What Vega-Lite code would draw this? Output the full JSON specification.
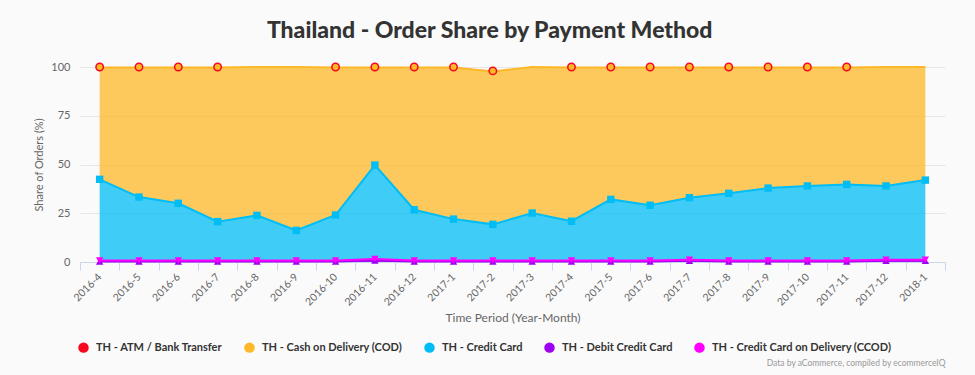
{
  "$schema": "https://vega.github.io/schema/vega-lite/v6.json",
  "autosize": {"type": "pad"},
  "padding": {"left": 33, "top": 20, "right": 30, "bottom": 7},
  "background": "#fafafa",
  "config": {"font": "Lato", "view": {"stroke": null}, "concat": {"spacing": 0}},
  "title": {"text": "Thailand - Order Share by Payment Method", "fontSize": 23, "fontWeight": 900, "color": "#333333", "anchor": "middle", "offset": 17},
  "vconcat": [
    {
      "width": 865,
      "height": 195,
      "title": {"text": "Data by aCommerce, compiled by ecommerceIQ", "orient": "bottom", "anchor": "end", "fontSize": 8.5, "fontWeight": "normal", "color": "#999999", "offset": 36},
      "data": {"values": [
        {"month": "2016-4", "TH - ATM / Bank Transfer": 0.2, "TH - Cash on Delivery (COD)": 57.4, "TH - Credit Card": 41.6, "TH - Debit Credit Card": 0.3, "TH - Credit Card on Delivery (CCOD)": 0.5},
        {"month": "2016-5", "TH - ATM / Bank Transfer": 0.2, "TH - Cash on Delivery (COD)": 66.5, "TH - Credit Card": 32.5, "TH - Debit Credit Card": 0.3, "TH - Credit Card on Delivery (CCOD)": 0.5},
        {"month": "2016-6", "TH - ATM / Bank Transfer": 0.2, "TH - Cash on Delivery (COD)": 69.7, "TH - Credit Card": 29.3, "TH - Debit Credit Card": 0.3, "TH - Credit Card on Delivery (CCOD)": 0.5},
        {"month": "2016-7", "TH - ATM / Bank Transfer": 0.2, "TH - Cash on Delivery (COD)": 79.1, "TH - Credit Card": 19.9, "TH - Debit Credit Card": 0.3, "TH - Credit Card on Delivery (CCOD)": 0.5},
        {"month": "2016-8", "TH - ATM / Bank Transfer": 0, "TH - Cash on Delivery (COD)": 76.1, "TH - Credit Card": 23.1, "TH - Debit Credit Card": 0.3, "TH - Credit Card on Delivery (CCOD)": 0.5},
        {"month": "2016-9", "TH - ATM / Bank Transfer": 0, "TH - Cash on Delivery (COD)": 83.8, "TH - Credit Card": 15.4, "TH - Debit Credit Card": 0.3, "TH - Credit Card on Delivery (CCOD)": 0.5},
        {"month": "2016-10", "TH - ATM / Bank Transfer": 0.2, "TH - Cash on Delivery (COD)": 75.7, "TH - Credit Card": 23.3, "TH - Debit Credit Card": 0.3, "TH - Credit Card on Delivery (CCOD)": 0.5},
        {"month": "2016-11", "TH - ATM / Bank Transfer": 0.2, "TH - Cash on Delivery (COD)": 50.1, "TH - Credit Card": 48.2, "TH - Debit Credit Card": 0.8, "TH - Credit Card on Delivery (CCOD)": 0.7},
        {"month": "2016-12", "TH - ATM / Bank Transfer": 0.2, "TH - Cash on Delivery (COD)": 73.0, "TH - Credit Card": 26.0, "TH - Debit Credit Card": 0.3, "TH - Credit Card on Delivery (CCOD)": 0.5},
        {"month": "2017-1", "TH - ATM / Bank Transfer": 0.2, "TH - Cash on Delivery (COD)": 77.8, "TH - Credit Card": 21.2, "TH - Debit Credit Card": 0.3, "TH - Credit Card on Delivery (CCOD)": 0.5},
        {"month": "2017-2", "TH - ATM / Bank Transfer": 0.3, "TH - Cash on Delivery (COD)": 78.4, "TH - Credit Card": 18.5, "TH - Debit Credit Card": 0.3, "TH - Credit Card on Delivery (CCOD)": 0.5},
        {"month": "2017-3", "TH - ATM / Bank Transfer": 0, "TH - Cash on Delivery (COD)": 74.9, "TH - Credit Card": 24.3, "TH - Debit Credit Card": 0.3, "TH - Credit Card on Delivery (CCOD)": 0.5},
        {"month": "2017-4", "TH - ATM / Bank Transfer": 0.2, "TH - Cash on Delivery (COD)": 78.9, "TH - Credit Card": 20.1, "TH - Debit Credit Card": 0.3, "TH - Credit Card on Delivery (CCOD)": 0.5},
        {"month": "2017-5", "TH - ATM / Bank Transfer": 0.2, "TH - Cash on Delivery (COD)": 67.7, "TH - Credit Card": 31.3, "TH - Debit Credit Card": 0.3, "TH - Credit Card on Delivery (CCOD)": 0.5},
        {"month": "2017-6", "TH - ATM / Bank Transfer": 0.2, "TH - Cash on Delivery (COD)": 70.7, "TH - Credit Card": 28.3, "TH - Debit Credit Card": 0.3, "TH - Credit Card on Delivery (CCOD)": 0.5},
        {"month": "2017-7", "TH - ATM / Bank Transfer": 0.2, "TH - Cash on Delivery (COD)": 66.8, "TH - Credit Card": 31.8, "TH - Debit Credit Card": 0.6, "TH - Credit Card on Delivery (CCOD)": 0.6},
        {"month": "2017-8", "TH - ATM / Bank Transfer": 0.2, "TH - Cash on Delivery (COD)": 64.6, "TH - Credit Card": 34.4, "TH - Debit Credit Card": 0.3, "TH - Credit Card on Delivery (CCOD)": 0.5},
        {"month": "2017-9", "TH - ATM / Bank Transfer": 0.2, "TH - Cash on Delivery (COD)": 61.9, "TH - Credit Card": 37.1, "TH - Debit Credit Card": 0.3, "TH - Credit Card on Delivery (CCOD)": 0.5},
        {"month": "2017-10", "TH - ATM / Bank Transfer": 0.2, "TH - Cash on Delivery (COD)": 60.8, "TH - Credit Card": 38.2, "TH - Debit Credit Card": 0.3, "TH - Credit Card on Delivery (CCOD)": 0.5},
        {"month": "2017-11", "TH - ATM / Bank Transfer": 0.2, "TH - Cash on Delivery (COD)": 60.0, "TH - Credit Card": 39.0, "TH - Debit Credit Card": 0.3, "TH - Credit Card on Delivery (CCOD)": 0.5},
        {"month": "2017-12", "TH - ATM / Bank Transfer": 0, "TH - Cash on Delivery (COD)": 61.0, "TH - Credit Card": 37.8, "TH - Debit Credit Card": 0.6, "TH - Credit Card on Delivery (CCOD)": 0.6},
        {"month": "2018-1", "TH - ATM / Bank Transfer": 0, "TH - Cash on Delivery (COD)": 58.0, "TH - Credit Card": 40.8, "TH - Debit Credit Card": 0.6, "TH - Credit Card on Delivery (CCOD)": 0.6}
      ]},
      "transform": [
        {"fold": ["TH - ATM / Bank Transfer", "TH - Cash on Delivery (COD)", "TH - Credit Card", "TH - Debit Credit Card", "TH - Credit Card on Delivery (CCOD)"], "as": ["series", "value"]},
        {"stack": "value", "groupby": ["month"], "sort": [{"field": "series", "order": "descending"}], "as": ["y0", "y1"]}
      ],
      "encoding": {
        "x": {
          "field": "month", "type": "nominal", "sort": null, "bandPosition": 0.5,
          "scale": {"type": "band", "paddingInner": 0, "paddingOuter": 0},
          "axis": {
            "title": "Time Period (Year-Month)", "titleFontSize": 12, "titleFontWeight": "normal", "titleColor": "#666666", "titlePadding": 5,
            "labelAngle": -45, "labelAlign": "right", "labelBaseline": "middle", "labelFontSize": 10.5, "labelColor": "#666666", "labelPadding": 5,
            "domainColor": "#ccd6eb", "tickColor": "#ccd6eb", "tickSize": 8, "tickBand": "extent", "tickExtra": true, "grid": false
          }
        }
      },
      "layer": [
        {
          "mark": {"type": "area", "fillOpacity": 0.75},
          "encoding": {
            "y": {"field": "y1", "type": "quantitative", "stack": null, "scale": {"domain": [0, 100], "nice": false},
              "axis": {"title": "Share of Orders (%)", "titleFontSize": 11, "titleFontWeight": "normal", "titleColor": "#666666", "titlePadding": 6,
                "values": [0, 25, 50, 75, 100], "labelFontSize": 11, "labelColor": "#666666", "labelPadding": 10,
                "domain": false, "ticks": false, "gridColor": "#e6e6e6"}},
            "y2": {"field": "y0"},
            "color": {
              "field": "series", "type": "nominal",
              "scale": {
                "domain": ["TH - ATM / Bank Transfer", "TH - Cash on Delivery (COD)", "TH - Credit Card", "TH - Debit Credit Card", "TH - Credit Card on Delivery (CCOD)"],
                "range": ["#f7071f", "#fdb827", "#00bdf5", "#9c00f0", "#ff00ff"]
              },
              "legend": {
                "title": null, "orient": "none", "legendX": -2, "legendY": 275, "direction": "horizontal",
                "symbolType": "circle", "symbolSize": 110, "symbolOpacity": 1, "symbolStrokeWidth": 0,
                "labelFontSize": 11, "labelFontWeight": "bold", "labelColor": "#333333", "labelOffset": 7, "labelLimit": 0, "columnPadding": 21
              }
            }
          }
        },
        {
          "transform": [{"filter": "datum.series != 'TH - ATM / Bank Transfer'"}],
          "mark": {"type": "line", "strokeWidth": 2},
          "encoding": {
            "y": {"field": "y1", "type": "quantitative", "stack": null},
            "color": {"field": "series", "type": "nominal"}
          }
        },
        {
          "transform": [{"filter": "datum.series == 'TH - Credit Card' || datum.series == 'TH - Debit Credit Card' || datum.series == 'TH - Credit Card on Delivery (CCOD)'"}],
          "mark": {"type": "point", "filled": true, "opacity": 1, "size": 55},
          "encoding": {
            "y": {"field": "y1", "type": "quantitative", "stack": null},
            "color": {"field": "series", "type": "nominal"},
            "shape": {"field": "series", "type": "nominal",
              "scale": {"domain": ["TH - Credit Card", "TH - Debit Credit Card", "TH - Credit Card on Delivery (CCOD)"], "range": ["square", "triangle-up", "triangle-down"]},
              "legend": null}
          }
        },
        {
          "transform": [{"filter": "datum.series == 'TH - ATM / Bank Transfer' && datum.value > 0"}],
          "mark": {"type": "point", "shape": "circle", "filled": true, "fill": "#fdb827", "stroke": "#f7071f", "strokeWidth": 1.5, "opacity": 1, "size": 55},
          "encoding": {
            "y": {"field": "y1", "type": "quantitative", "stack": null}
          }
        }
      ]
    }
  ]
}
